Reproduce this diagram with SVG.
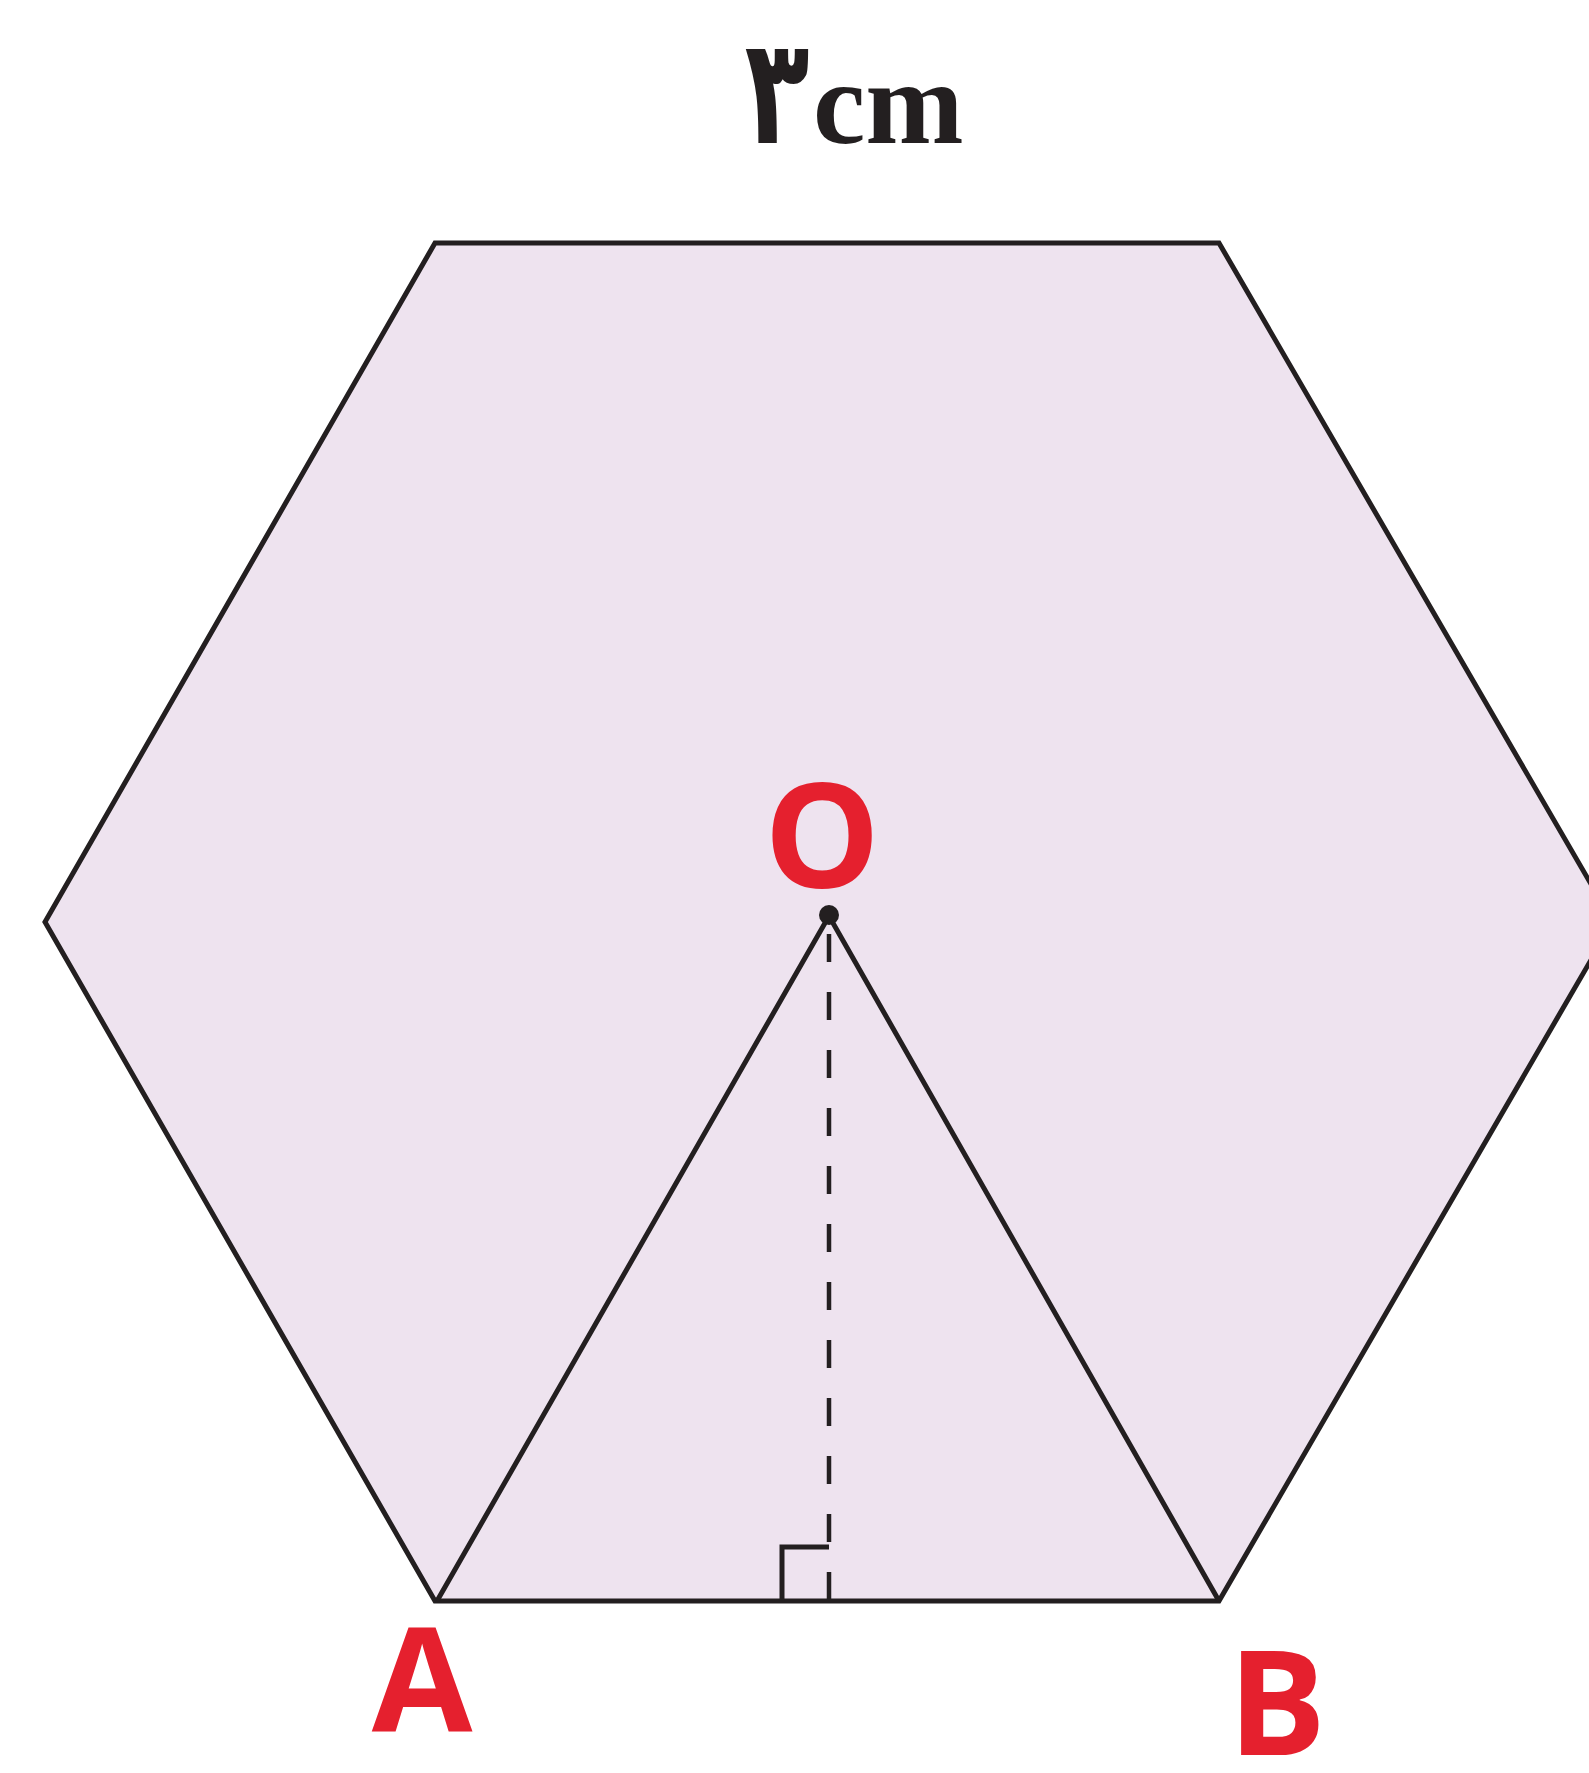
<svg xmlns="http://www.w3.org/2000/svg" width="1589" height="1773" viewBox="0 0 1589 1773">
<style>
.edge{fill:none;stroke:#231f20;stroke-width:5;stroke-linejoin:miter}
.hex{fill:#eee3ef;stroke:#231f20;stroke-width:5;stroke-linejoin:miter}
.lbl{font-family:"Open Sans","Liberation Sans",sans-serif;font-weight:bold;fill:#e5202e;font-size:146px;text-anchor:middle}
</style>
<rect width="1589" height="1773" fill="#ffffff"/>
<g id="hexagon">
<polygon class="hex" points="435,243 1219,243 1613,922 1219,1601 435,1601 45,922"/>
</g>
<g id="connectors">
<polyline class="edge" points="437,1601 829,916 1219,1601"/>
<line x1="829" y1="934" x2="829" y2="1600" stroke="#231f20" stroke-width="4.5" stroke-dasharray="28 30"/>
<polyline class="edge" points="782,1601 782,1547 829,1547"/>
</g>
<g id="O">
<circle cx="829" cy="915" r="10" fill="#231f20"/>
<text class="lbl" x="822" y="888">O</text>
</g>
<g id="A">
<text class="lbl" x="422" y="1732">A</text>
</g>
<g id="B">
<text class="lbl" x="1277" y="1755">B</text>
</g>
<g id="length">
<text transform="translate(777,143) scale(0.72,1)" font-family="'DejaVu Sans',sans-serif" font-weight="bold" font-size="148" text-anchor="middle" fill="#231f20">۳</text>
<text x="813" y="143" font-family="'Liberation Serif',serif" font-weight="bold" font-size="118" fill="#231f20">cm</text>
</g>
</svg>
